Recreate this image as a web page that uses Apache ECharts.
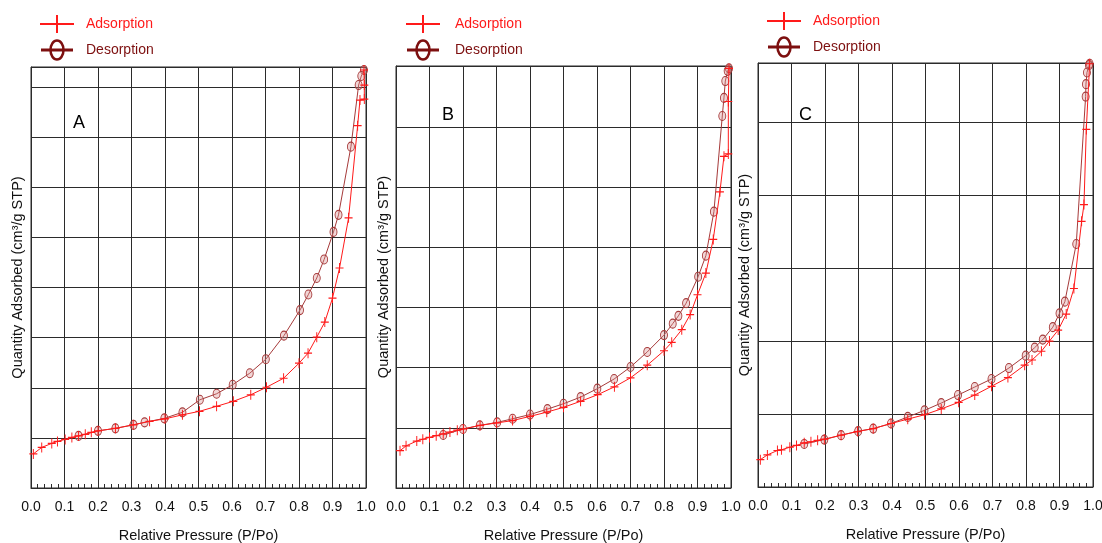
<!DOCTYPE html>
<html>
<head>
<meta charset="utf-8">
<script src="https://cdn.jsdelivr.net/npm/echarts@6/dist/echarts.min.js"></script>
<style>
  html, body { margin: 0; padding: 0; background: #fff; }
  #main { width: 1102px; height: 543px; }
</style>
</head>
<body>
<div id="main"></div>
<script>
// isotherm data: [P/Po, quantity adsorbed] (y in grid units)
var adsA = [[0.007,0.68],[0.032,0.81],[0.062,0.89],[0.079,0.93],[0.102,0.97],[0.122,1.01],[0.142,1.04],[0.162,1.07],[0.18,1.11],[0.2,1.14],[0.252,1.19],[0.305,1.26],[0.354,1.33],[0.4,1.38],[0.452,1.46],[0.503,1.53],[0.554,1.63],[0.604,1.73],[0.656,1.86],[0.703,2.01],[0.754,2.19],[0.8,2.49],[0.827,2.69],[0.853,3.01],[0.877,3.31],[0.9,3.79],[0.921,4.39],[0.948,5.39],[0.975,7.23],[0.982,7.74],[0.995,7.76],[0.995,8.04],[0.994,8.34]];
var desA = [[0.994,8.34],[0.986,8.22],[0.978,8.04],[0.955,6.81],[0.918,5.45],[0.903,5.11],[0.875,4.56],[0.853,4.19],[0.828,3.86],[0.803,3.55],[0.755,3.04],[0.701,2.57],[0.653,2.29],[0.602,2.06],[0.554,1.88],[0.504,1.76],[0.452,1.51],[0.398,1.39],[0.339,1.31],[0.306,1.26],[0.252,1.19],[0.2,1.14],[0.142,1.04]];

var adsB = [[0.012,0.62],[0.03,0.70],[0.062,0.78],[0.08,0.81],[0.1,0.84],[0.12,0.87],[0.141,0.90],[0.161,0.93],[0.183,0.96],[0.201,0.98],[0.251,1.04],[0.3,1.08],[0.348,1.12],[0.4,1.19],[0.45,1.26],[0.5,1.34],[0.551,1.44],[0.602,1.55],[0.652,1.68],[0.70,1.83],[0.75,2.04],[0.80,2.28],[0.823,2.42],[0.853,2.63],[0.878,2.88],[0.90,3.21],[0.925,3.57],[0.947,4.13],[0.967,4.92],[0.979,5.51],[0.992,5.55],[0.992,6.42],[0.994,6.97]];
var desB = [[0.994,6.97],[0.99,6.93],[0.983,6.76],[0.979,6.48],[0.974,6.18],[0.949,4.59],[0.925,3.86],[0.902,3.51],[0.866,3.07],[0.843,2.86],[0.826,2.73],[0.80,2.54],[0.75,2.26],[0.70,2.01],[0.651,1.81],[0.601,1.65],[0.551,1.51],[0.5,1.40],[0.452,1.31],[0.4,1.22],[0.348,1.15],[0.302,1.09],[0.25,1.04],[0.2,0.98],[0.141,0.88]];

var adsC = [[0.007,0.375],[0.028,0.44],[0.058,0.50],[0.07,0.51],[0.095,0.545],[0.115,0.57],[0.138,0.605],[0.158,0.62],[0.178,0.64],[0.198,0.655],[0.248,0.71],[0.297,0.76],[0.344,0.80],[0.397,0.87],[0.447,0.93],[0.497,0.99],[0.547,1.07],[0.599,1.16],[0.647,1.26],[0.697,1.38],[0.746,1.50],[0.796,1.67],[0.818,1.74],[0.846,1.86],[0.87,2.00],[0.896,2.15],[0.92,2.37],[0.943,2.72],[0.966,3.64],[0.973,3.87],[0.98,4.90],[0.99,5.80]];
var desC = [[0.99,5.80],[0.988,5.78],[0.982,5.68],[0.979,5.52],[0.978,5.35],[0.95,3.33],[0.916,2.54],[0.9,2.38],[0.88,2.19],[0.85,2.02],[0.826,1.91],[0.799,1.80],[0.749,1.63],[0.697,1.48],[0.647,1.37],[0.597,1.26],[0.547,1.15],[0.497,1.05],[0.447,0.96],[0.397,0.87],[0.344,0.80],[0.299,0.765],[0.248,0.71],[0.198,0.65],[0.138,0.59]];

var yMax = [8.4, 7.01, 5.81];

var FONT = 'Arial, "Liberation Sans", sans-serif';
var RED = '#ff1a1a';
var DARK = '#7d0f0f';
var DES_LINE = '#a63a3a';
var GRID = '#2b2b2b';

var grids = [
  {left: 31, top: 67, width: 335, height: 421},
  {left: 396, top: 66, width: 335, height: 422},
  {left: 758, top: 63, width: 335, height: 424}
];
var yNameGap = [6, 5, 6];

var plusPath = 'path://M0,4.4H10V5.6H0Z M4.4,0H5.6V10H4.4Z';

function legendGraphics(cx, y1, y2, tx) {
  return [
    {type: 'line', shape: {x1: cx - 17, y1: y1, x2: cx + 17, y2: y1}, style: {stroke: RED, lineWidth: 2}},
    {type: 'line', shape: {x1: cx, y1: y1 - 9, x2: cx, y2: y1 + 9}, style: {stroke: RED, lineWidth: 2}},
    {type: 'line', shape: {x1: cx - 16, y1: y2, x2: cx + 16, y2: y2}, style: {stroke: DARK, lineWidth: 3}},
    {type: 'ellipse', shape: {cx: cx, cy: y2, rx: 6.5, ry: 9.5}, style: {stroke: DARK, lineWidth: 2.5, fill: 'none'}},
    {type: 'text', x: tx, y: y1, style: {text: 'Adsorption', fill: RED, font: '14px ' + FONT, verticalAlign: 'middle'}},
    {type: 'text', x: tx, y: y2, style: {text: 'Desorption', fill: DARK, font: '14px ' + FONT, verticalAlign: 'middle'}}
  ];
}

var xAxes = [], yAxes = [], series = [];
var adsSets = [adsA, adsB, adsC], desSets = [desA, desB, desC];
for (var i = 0; i < 3; i++) {
  xAxes.push({
    type: 'value', gridIndex: i, min: 0, max: 1, interval: 0.1,
    name: 'Relative Pressure (P/Po)', nameLocation: 'middle', nameGap: 40,
    nameTextStyle: {fontFamily: FONT, fontSize: 14.5, color: '#111'},
    axisLine: {lineStyle: {color: GRID, width: 1}},
    axisTick: {show: false},
    minorTick: {show: true, splitNumber: 5, length: -4, lineStyle: {color: GRID}},
    axisLabel: {fontFamily: FONT, fontSize: 14, color: '#111', margin: 12,
      formatter: function (v) { return v.toFixed(1); }},
    splitLine: {show: true, lineStyle: {color: GRID, width: 1}}
  });
  yAxes.push({
    type: 'value', gridIndex: i, min: 0, max: yMax[i], interval: 1,
    name: 'Quantity Adsorbed (cm³/g STP)', nameLocation: 'middle', nameGap: yNameGap[i],
    nameTextStyle: {fontFamily: FONT, fontSize: 14.5, color: '#111'},
    axisLine: {show: true, lineStyle: {color: GRID}},
    axisTick: {show: false},
    axisLabel: {show: false},
    splitLine: {show: true, lineStyle: {color: GRID, width: 1}}
  });
  series.push({
    name: 'Adsorption', type: 'line', xAxisIndex: i, yAxisIndex: i,
    data: adsSets[i], symbol: plusPath, symbolSize: [8, 10], showAllSymbol: true,
    lineStyle: {color: RED, width: 1}, itemStyle: {color: RED}, z: 3
  });
  series.push({
    name: 'Desorption', type: 'line', xAxisIndex: i, yAxisIndex: i,
    data: desSets[i], symbol: 'circle', symbolSize: [7, 9], showAllSymbol: true,
    lineStyle: {color: DES_LINE, width: 1},
    itemStyle: {color: 'rgba(215,140,140,0.35)', borderColor: DES_LINE, borderWidth: 1}, z: 2
  });
}

var graphics = []
  .concat(legendGraphics(57, 24, 50, 86))
  .concat(legendGraphics(423, 24, 50, 455))
  .concat(legendGraphics(784, 21, 47, 813));
graphics.push({type: 'text', x: 73, y: 123, style: {text: 'A', fill: '#000', font: '18px ' + FONT, verticalAlign: 'middle'}});
graphics.push({type: 'text', x: 442, y: 115, style: {text: 'B', fill: '#000', font: '18px ' + FONT, verticalAlign: 'middle'}});
graphics.push({type: 'text', x: 799, y: 115, style: {text: 'C', fill: '#000', font: '18px ' + FONT, verticalAlign: 'middle'}});

var myChart = echarts.init(document.getElementById('main'));
myChart.setOption({
  animation: false,
  backgroundColor: '#fff',
  grid: grids.map(function (g) {
    return {left: g.left, top: g.top, width: g.width, height: g.height,
      show: true, borderColor: GRID, borderWidth: 1,
      containLabel: false, outerBoundsMode: 'none'};
  }),
  xAxis: xAxes,
  yAxis: yAxes,
  series: series,
  graphic: graphics
});
</script>
</body>
</html>
